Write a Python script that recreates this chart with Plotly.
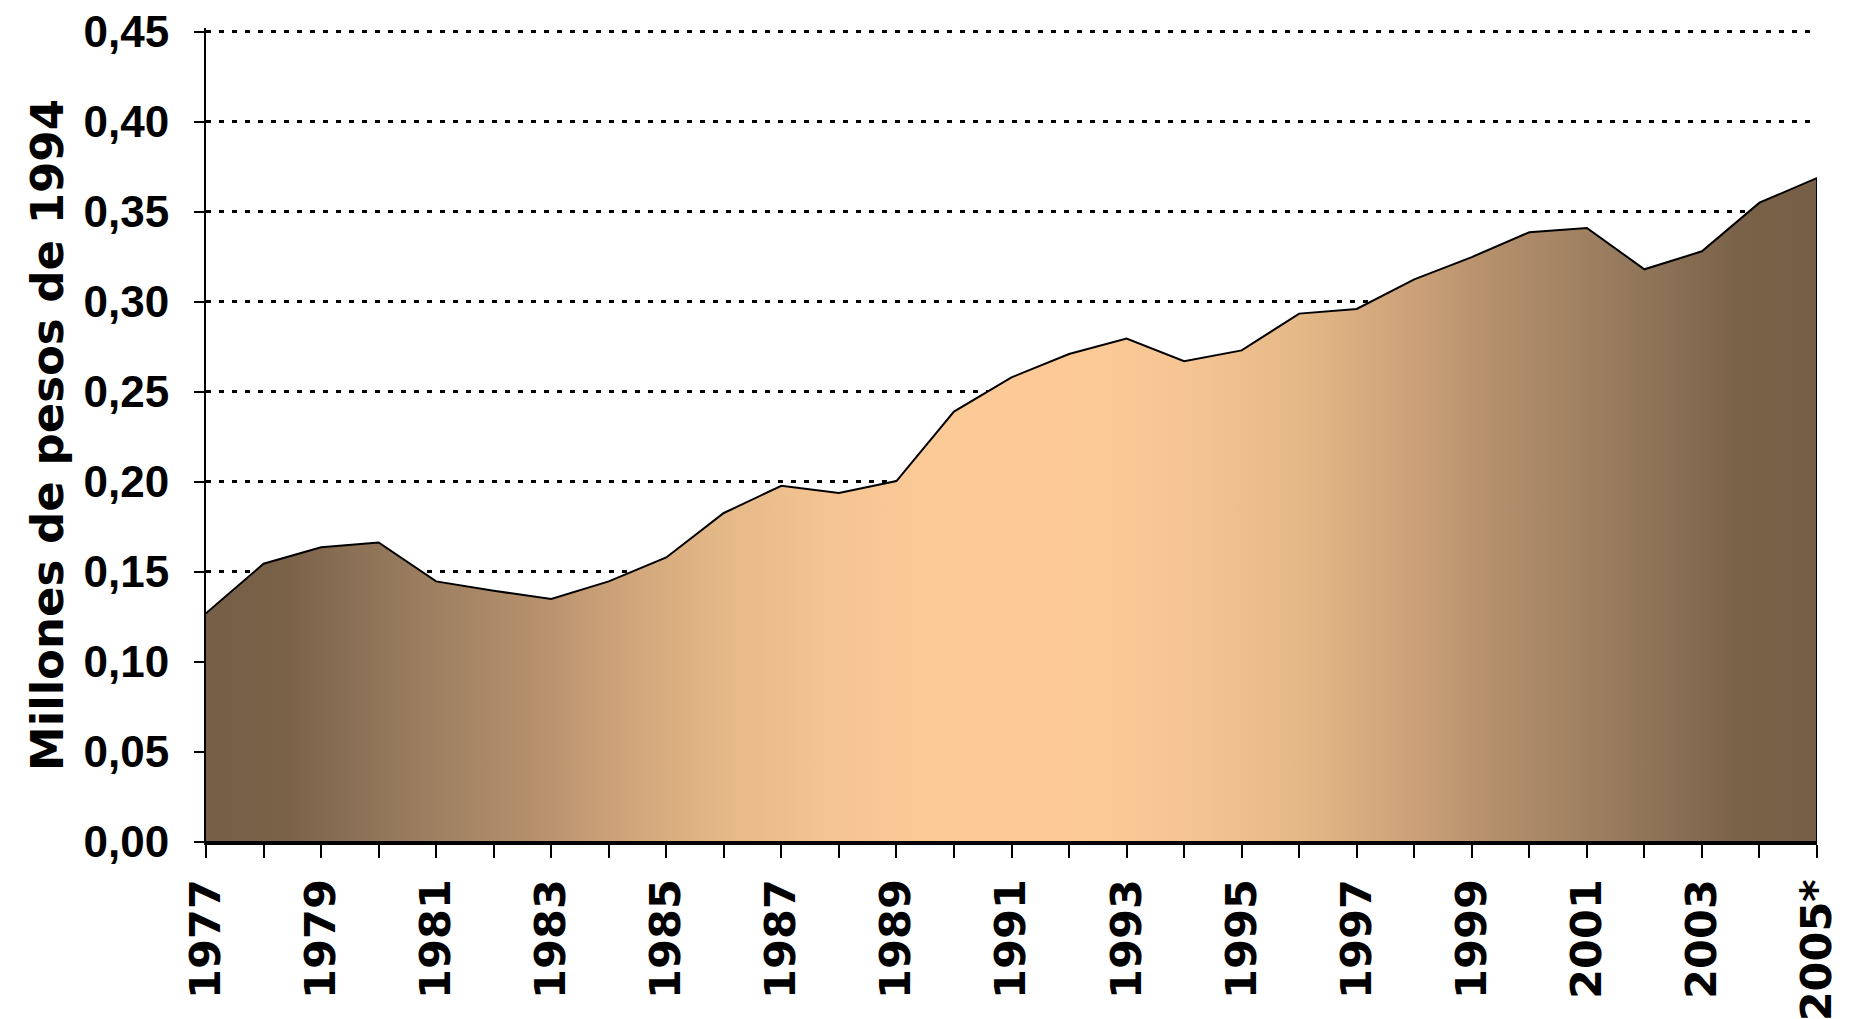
import plotly.graph_objects as go

years = list(range(1977, 2006))
values = [0.127, 0.1545, 0.1637, 0.1663, 0.1447, 0.1395, 0.1349, 0.1447, 0.158,
          0.1827, 0.1978, 0.1938, 0.2004, 0.239, 0.258, 0.271, 0.2796, 0.267,
          0.273, 0.2934, 0.296, 0.3124, 0.3248, 0.3386, 0.341, 0.318, 0.328,
          0.355, 0.3687]
tick_labels = [str(y) if (y - 1977) % 2 == 0 else "" for y in years]
tick_labels[-1] = "2005*"
y_title = "Millones de pesos de 1994"

# closed polygon: data line plus baseline
poly_x = years + [years[-1], years[0]]
poly_y = values + [0, 0]

half = [(0.0, "#765e47"), (0.05, "#7a6249"), (0.13, "#9a7d5f"), (0.20, "#b48f6c"),
        (0.26, "#cfa47a"), (0.32, "#e5b887"), (0.38, "#f3c391"), (0.45, "#fcca97")]
scale = [[p, c] for p, c in half] + [[0.5, "#fdca97"]] + [[1 - p, c] for p, c in reversed(half)]

fig = go.Figure()
fig.add_trace(go.Scatter(
    x=poly_x, y=poly_y, mode="lines", fill="toself",
    line=dict(color="black", width=2),
    fillgradient=dict(type="horizontal", colorscale=scale),
    hoverinfo="skip", showlegend=False,
))

fig.update_layout(
    width=1850, height=1019,
    margin=dict(l=198, r=41, t=20, b=185),
    paper_bgcolor="white", plot_bgcolor="white",
    separators=",.",
    xaxis=dict(
        range=[1977, 2005], tickmode="array", tickvals=years, ticktext=tick_labels,
        tickangle=-90, ticks="outside", ticklen=13, tickwidth=2, tickcolor="black",
        showline=True, linecolor="black", linewidth=3, showgrid=False, zeroline=False,
        automargin=False, ticklabeloverflow="allow", ticklabelstandoff=4,
        tickfont=dict(family="DejaVu Sans", size=43, color="black", weight="bold"),
    ),
    yaxis=dict(
        range=[0, 0.452], tickmode="array",
        tickvals=[0, 0.05, 0.1, 0.15, 0.2, 0.25, 0.3, 0.35, 0.4, 0.45], tickformat=".2f",
        ticks="outside", ticklen=10, tickwidth=2, tickcolor="black",
        showline=True, linecolor="black", linewidth=2, zeroline=False,
        showgrid=True, gridcolor="black", gridwidth=3, griddash="5px,8px",
        automargin=False, ticklabeloverflow="allow", ticklabelstandoff=16,
        tickfont=dict(family="Liberation Sans", size=44, color="black", weight="bold"),
        title=dict(text=y_title, standoff=6,
                   font=dict(family="DejaVu Sans", size=45, color="black", weight="bold")),
    ),
)

fig.write_html("out.html")
